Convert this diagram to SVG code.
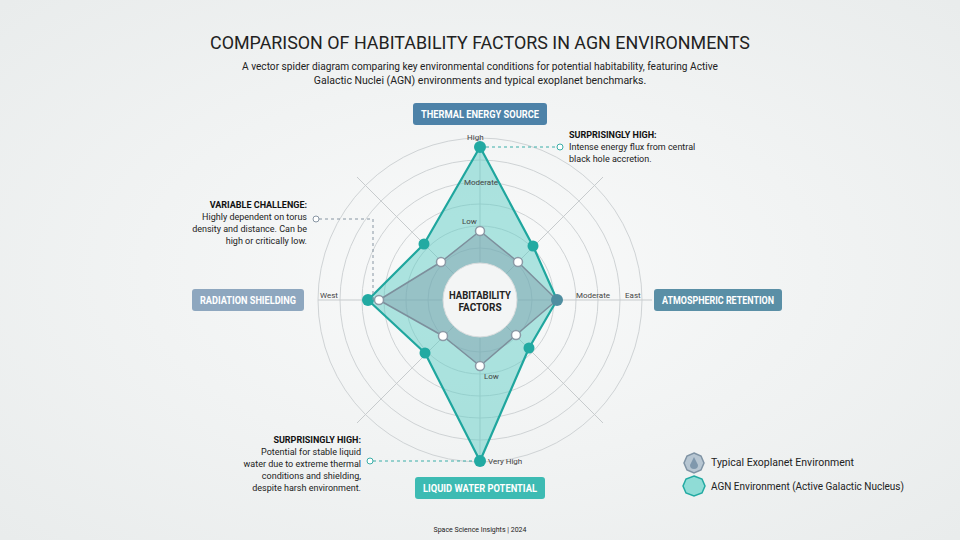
<svg xmlns="http://www.w3.org/2000/svg" width="960" height="540" viewBox="0 0 960 540">
<defs>
<radialGradient id="bg" cx="50%" cy="50%" r="70%"><stop offset="0" stop-color="#f9fafa"/><stop offset="1" stop-color="#e9ecec"/></radialGradient>
<style>
text{font-family:Roboto,"Liberation Sans",sans-serif;fill:#222}
.ring{fill:none;stroke:#cfd3d5;stroke-width:1}
.ax{stroke:#c7cbcd;stroke-width:1}
.sm{font-size:8px;fill:#444}
.lbl{font-size:10px;font-weight:bold;fill:#fff;text-anchor:middle}
.an{font-size:9px;fill:#222}
.anb{font-size:9px;font-weight:bold;fill:#111}
.dash{fill:none;stroke:#3aaea8;stroke-width:1;stroke-dasharray:3,3}
.dashg{fill:none;stroke:#8896a3;stroke-width:1;stroke-dasharray:3,3}
.ad{fill:#22aaa2}
.td{fill:#fff;stroke:#8b9aa6;stroke-width:1.5}
</style>
</defs>
<rect width="960" height="540" fill="url(#bg)"/>
<text x="480" y="49" text-anchor="middle" font-size="18" fill="#1a1a1a" textLength="540" lengthAdjust="spacingAndGlyphs">COMPARISON OF HABITABILITY FACTORS IN AGN ENVIRONMENTS</text>
<text x="480" y="70" text-anchor="middle" font-size="10.5" textLength="476" lengthAdjust="spacingAndGlyphs">A vector spider diagram comparing key environmental conditions for potential habitability, featuring Active</text>
<text x="480" y="84" text-anchor="middle" font-size="10.5">Galactic Nuclei (AGN) environments and typical exoplanet benchmarks.</text>
<g id="grid">
<circle class="ring" cx="480" cy="300" r="162"/>
<circle class="ring" cx="480" cy="300" r="140"/>
<circle class="ring" cx="480" cy="300" r="118"/>
<circle class="ring" cx="480" cy="300" r="96"/>
<circle class="ring" cx="480" cy="300" r="74"/>
<circle class="ring" cx="480" cy="300" r="52"/>
<line class="ax" x1="318" y1="300" x2="652" y2="300"/>
<line class="ax" x1="480" y1="138" x2="480" y2="462"/>
<line class="ax" x1="357" y1="177" x2="603" y2="423"/>
<line class="ax" x1="603" y1="177" x2="357" y2="423"/>
</g>
<g id="agn">
<polygon points="480,147 533,246 557,300 529,348 480,461 425,353 368,300 424,244" fill="#5fcdc5" fill-opacity="0.5" stroke="#1fa69e" stroke-width="2.2" stroke-linejoin="round"/>
</g>
<g id="typical">
<polygon points="480,231 518,262 557,300 516,335 480,366 443,336 379,300 441,262" fill="#7f98a8" fill-opacity="0.45" stroke="#7d8f9c" stroke-width="1.5" stroke-linejoin="round"/>
</g>
<g id="center">
<circle cx="480" cy="300" r="37" fill="#f3f5f5" stroke="#d9dcdd"/>
<text x="480" y="299" text-anchor="middle" font-size="10" font-weight="bold" textLength="62" lengthAdjust="spacingAndGlyphs">HABITABILITY</text>
<text x="480" y="311" text-anchor="middle" font-size="10" font-weight="bold">FACTORS</text>
</g>
<g id="dots">
<circle class="ad" cx="480" cy="147" r="6"/><circle class="ad" cx="533" cy="246" r="5.5"/>
<circle cx="557" cy="300" r="6" fill="#4f8ea0"/><circle class="ad" cx="529" cy="348" r="5.5"/>
<circle class="ad" cx="480" cy="461" r="6"/><circle class="ad" cx="425" cy="353" r="5.5"/>
<circle class="ad" cx="368" cy="300" r="6"/><circle class="ad" cx="424" cy="244" r="5.5"/>
<circle class="td" cx="480" cy="231" r="4.5"/><circle class="td" cx="518" cy="262" r="4.5"/>
<circle class="td" cx="516" cy="335" r="4.5"/><circle class="td" cx="480" cy="366" r="4.5"/>
<circle class="td" cx="443" cy="336" r="4.5"/><circle class="td" cx="379" cy="300" r="4.5"/>
<circle class="td" cx="441" cy="262" r="4.5"/>
</g>
<g id="scale">
<text class="sm" x="467" y="140">High</text>
<text class="sm" x="464" y="185">Moderate</text>
<text class="sm" x="462" y="224">Low</text>
<text class="sm" x="484" y="379">Low</text>
<text class="sm" x="488" y="464">Very High</text>
<text class="sm" x="320" y="298">West</text>
<text class="sm" x="576" y="298">Moderate</text>
<text class="sm" x="625" y="298">East</text>
</g>
<g id="axis-labels">
<g id="n-thermal"><rect x="413" y="103" width="134" height="22" rx="3" fill="#4d82a8"/><text class="lbl" x="480" y="117.5" textLength="118" lengthAdjust="spacingAndGlyphs">THERMAL ENERGY SOURCE</text></g>
<g id="n-radiation"><rect x="192" y="289" width="112" height="22" rx="3" fill="#8ea7bf"/><text class="lbl" x="248" y="303.5" textLength="96" lengthAdjust="spacingAndGlyphs">RADIATION SHIELDING</text></g>
<g id="n-atmos"><rect x="654" y="289" width="128" height="22" rx="3" fill="#5a8fa6"/><text class="lbl" x="718" y="303.5" textLength="112" lengthAdjust="spacingAndGlyphs">ATMOSPHERIC RETENTION</text></g>
<g id="n-water"><rect x="415" y="477" width="130" height="22" rx="3" fill="#3dbbb3"/><text class="lbl" x="480" y="491.5" textLength="114" lengthAdjust="spacingAndGlyphs">LIQUID WATER POTENTIAL</text></g>
</g>
<g id="connectors">
<path class="dash" d="M486,147 H557"/><circle cx="560" cy="147" r="3" fill="#fff" stroke="#3aaea8"/>
<path class="dashg" d="M319,219 H373 V300"/><circle cx="316" cy="219" r="3" fill="#fff" stroke="#8896a3"/>
<path class="dash" d="M373,461 H474"/><circle cx="370" cy="461" r="3" fill="#fff" stroke="#3aaea8"/>
</g>
<g id="annotations">
<text class="anb" x="569" y="138">SURPRISINGLY HIGH:</text>
<text class="an" x="569" y="150">Intense energy flux from central</text>
<text class="an" x="569" y="162">black hole accretion.</text>
<g text-anchor="end">
<text class="anb" x="307" y="208">VARIABLE CHALLENGE:</text>
<text class="an" x="307" y="220">Highly dependent on torus</text>
<text class="an" x="307" y="232">density and distance. Can be</text>
<text class="an" x="307" y="244">high or critically low.</text>
<text class="anb" x="361" y="443">SURPRISINGLY HIGH:</text>
<text class="an" x="361" y="455">Potential for stable liquid</text>
<text class="an" x="361" y="467">water due to extreme thermal</text>
<text class="an" x="361" y="479">conditions and shielding,</text>
<text class="an" x="361" y="491">despite harsh environment.</text>
</g>
</g>
<g id="legend">
<polygon points="694,453 701,456 704,463 701,470 694,473 687,470 684,463 687,456" fill="#b7c6d2" stroke="#7f93a4" stroke-width="1.5"/>
<path d="M694,457 L698,465 A4,4 0 1 1 690,465 Z" fill="#7f98ad"/>
<text x="711" y="466" font-size="10.5">Typical Exoplanet Environment</text>
<polygon points="694,476 702,479 705,486 702,493 694,496 686,493 683,486 686,479" fill="#8fdcd6" stroke="#22aaa2" stroke-width="1.5"/>
<text x="711" y="490" font-size="10.5" textLength="193" lengthAdjust="spacingAndGlyphs">AGN Environment (Active Galactic Nucleus)</text>
</g>
<text x="480" y="532" text-anchor="middle" font-size="7" fill="#777">Space Science Insights | 2024</text>
</svg>
